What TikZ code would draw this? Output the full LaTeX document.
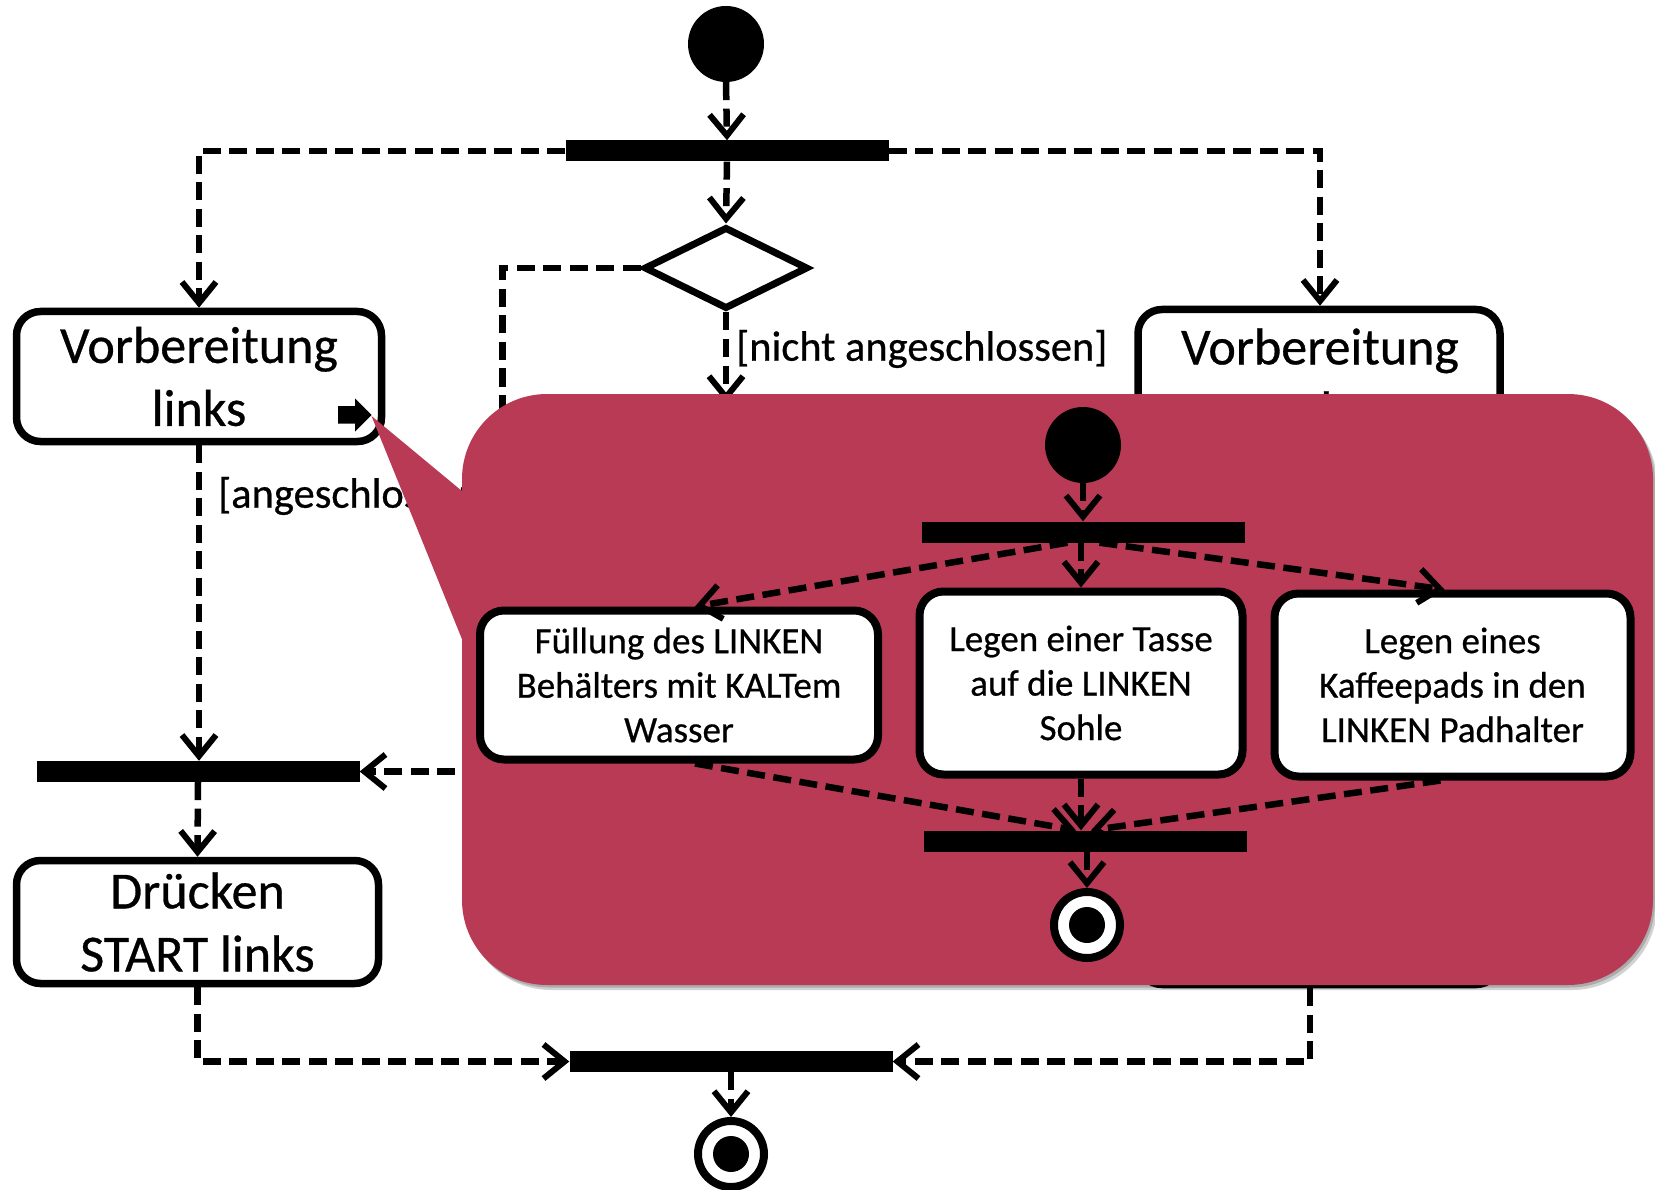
\documentclass[tikz,border=0pt]{standalone}
\usepackage{fontspec}
\setmainfont{Carlito}[FakeBold=0.6]
\usetikzlibrary{arrows.meta,shapes.geometric,calc}
\definecolor{calloutred}{RGB}{185,58,85}
\tikzset{
  flow/.style={line width=6.5pt, dash pattern=on 18pt off 8.5pt,
    -{Straight Barb[length=21pt,width=34pt,line width=6pt]}},
  act/.style={draw, line width=7.5pt, rounded corners=24pt, fill=white,
    align=center, inner sep=0pt, font=\fontsize{52}{63}\selectfont},
  iact/.style={draw, line width=8pt, rounded corners=24pt, fill=white,
    align=center, inner sep=0pt, font=\fontsize{37}{44.5}\selectfont},
  bigtext/.style={align=center, inner sep=0pt, font=\fontsize{52}{63}\selectfont},
  syncbar/.style={fill=black, inner sep=0pt, minimum width=323pt, minimum height=21pt},
  initnode/.style={circle, fill=black, inner sep=0pt, minimum size=76pt},
  finring/.style={circle, draw, line width=8pt, fill=white, inner sep=0pt, minimum size=66pt},
  findot/.style={circle, fill=black, inner sep=0pt, minimum size=36pt},
  guard/.style={font=\fontsize{42.5}{50}\selectfont, inner sep=0pt},
}
\begin{document}
\begin{tikzpicture}[x=1pt,y=-1pt]
\useasboundingbox (0,0) rectangle (1655,1190);

% ---------------- main activity ----------------
\node[initnode] (s0) at (726,44) {};
\node[syncbar] (f1) at (727,151) {};
\node[draw, diamond, line width=7pt, minimum width=164pt, minimum height=82pt,
      inner sep=0pt, fill=white] (d1) at (726,268) {};
\node[act, minimum width=365pt, minimum height=130pt] (vl) at (199,376.5) {Vorbereitung\\links};
\node[act, minimum width=362pt, minimum height=675pt] (vr) at (1319,647) {};
\node[bigtext] (vrt) at (1320,378) {Vorbereitung\\rechts};
\node[syncbar] (f2) at (198,771.5) {};
\node[act, minimum width=362pt, minimum height=123pt] (dl) at (197.5,922) {Drücken\\START links};
\node[syncbar] (f3) at (731,1061.5) {};
\node[finring] (e0) at (731,1154) {};
\node[findot] (e0d) at (e0) {};

\node[guard, anchor=west] (g1) at (736,349) {[nicht angeschlossen]};
\node[guard, anchor=west] (g2) at (218,496) {[angeschlossen]};

\coordinate (k1) at (502.5,771.5);
\coordinate (dn) at (726,402);

\draw[flow] (s0.south) -- (f1.north);
\draw[flow] (f1.west) -| (vl.north);
\draw[flow] (f1.east) -| ($(vr.north)+(1,0)$);
\draw[flow] (f1.south) -- (d1.north);
\draw[flow] (d1.west) -| (k1) -- (f2.east);
\draw[flow] (d1.south) -- (dn);
\draw[flow] (vl.south) -- (vl.south |- f2.north);
\draw[flow] (f2.south) -- (dl.north);
\draw[flow] (dl.south) |- (f3.west);
\draw[flow] ($(vr.south)+(-9,0)$) |- (f3.east);
\draw[flow] (f3.south) -- (e0.north);

% call-behaviour icon
\fill (338,406) -- (355,406) -- (355,398.5) -- (371.5,415) -- (355,431.5)
      -- (355,423.5) -- (338,423.5) -- cycle;

% ---------------- callout ----------------
\begin{scope}[shift={(4,5)}]
  \fill[black, opacity=0.18, rounded corners=85pt] (462,394) rectangle (1653,985);
\end{scope}
\begin{scope}[shift={(2,2.5)}]
  \fill[black, opacity=0.18, rounded corners=85pt] (462,394) rectangle (1653,985);
\end{scope}
\fill[calloutred, rounded corners=85pt] (462,394) rectangle (1653,985);
\fill[calloutred] (371.5,416) -- (480,506) -- (480,683.6) -- cycle;

% ---------------- inner activity ----------------
\node[initnode] (s1) at (1083,445) {};
\node[syncbar] (f4) at (1083.5,532) {};
\node[iact, minimum width=398pt, minimum height=149pt] (b1) at (679,685)
  {Füllung des LINKEN\\Behälters mit KALTem\\Wasser};
\node[iact, minimum width=323pt, minimum height=183pt] (b2) at (1081,683)
  {Legen einer Tasse\\auf die LINKEN\\Sohle};
\node[iact, minimum width=356pt, minimum height=183pt] (b3) at (1452.5,685)
  {Legen eines\\Kaffeepads in den\\LINKEN Padhalter};
\node[syncbar] (f5) at (1085,841) {};
\node[finring] (e1) at (1087,925) {};
\node[findot] (e1d) at (e1) {};

\draw[flow] (s1.south) -- (s1.south |- f4.north);
\draw[flow] ($(f4.south)+(-16,0)$) -- ($(b1.north)+(16,0)$);
\draw[flow] (b2.north |- f4.south) -- (b2.north);
\draw[flow] ($(f4.south)+(16,0)$) -- ($(b3.north)+(-8,0)$);
\draw[flow] ($(b1.south)+(16,0)$) -- ($(f5.north)+(-9,0)$);
\draw[flow] (b2.south) -- (b2.south |- f5.north);
\draw[flow] ($(b3.south)+(-12,0)$) -- ($(f5.north)+(6,0)$);
\draw[flow] (f5.south -| e1.north) -- (e1.north);
\end{tikzpicture}
\end{document}
